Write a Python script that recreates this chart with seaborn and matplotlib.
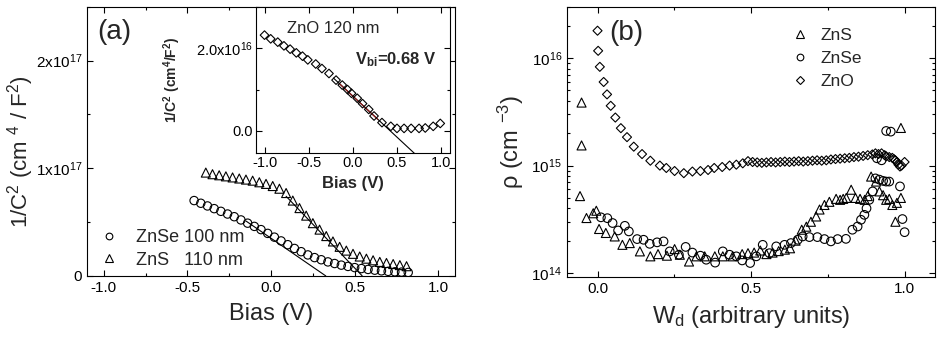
"""
Recreate the two-panel capacitance / doping profile figure with seaborn.
"""

import matplotlib

matplotlib.use("Agg")
import matplotlib.pyplot as plt
import matplotlib.ticker as mticker
import seaborn as sns

# ---------------- panel (a): 1/C^2 vs bias ----------------
ZNSE_BIAS = [-0.46, -0.42, -0.38, -0.34, -0.30, -0.26, -0.22, -0.18, -0.14, -0.10,
             -0.06, -0.02, 0.02, 0.06, 0.10, 0.14, 0.18, 0.22, 0.26, 0.30, 0.34,
             0.38, 0.42, 0.46, 0.50, 0.54, 0.58, 0.62, 0.66, 0.70, 0.74, 0.78, 0.82]
ZNSE_INV_C2 = [0.70e17, 0.675e17, 0.65e17, 0.625e17, 0.60e17, 0.575e17, 0.55e17,
               0.52e17, 0.49e17, 0.46e17, 0.43e17, 0.395e17, 0.36e17, 0.325e17,
               0.29e17, 0.255e17, 0.225e17, 0.195e17, 0.17e17, 0.15e17, 0.13e17,
               0.115e17, 0.10e17, 0.088e17, 0.077e17, 0.068e17, 0.06e17, 0.053e17,
               0.047e17, 0.042e17, 0.038e17, 0.035e17, 0.032e17]

ZNS_BIAS = [-0.39, -0.35, -0.31, -0.27, -0.23, -0.19, -0.15, -0.11, -0.07, -0.03,
            0.01, 0.05, 0.09, 0.13, 0.17, 0.21, 0.25, 0.29, 0.33, 0.37, 0.41, 0.45,
            0.49, 0.53, 0.57, 0.61, 0.65, 0.69, 0.73, 0.77, 0.81]
ZNS_INV_C2 = [0.96e17, 0.945e17, 0.935e17, 0.925e17, 0.915e17, 0.905e17, 0.895e17,
              0.885e17, 0.87e17, 0.855e17, 0.835e17, 0.81e17, 0.77e17, 0.70e17,
              0.63e17, 0.56e17, 0.49e17, 0.43e17, 0.37e17, 0.32e17, 0.27e17,
              0.235e17, 0.205e17, 0.18e17, 0.16e17, 0.145e17, 0.13e17, 0.12e17,
              0.11e17, 0.10e17, 0.09e17]

ZNSE_FIT_X = [-0.15, 0.327]
ZNSE_FIT_Y = [0.51e17, 0.0]
ZNS_FIT_X = [0.09, 0.545]
ZNS_FIT_Y = [0.74e17, 0.0]

# inset: ZnO
ZNO_BIAS = [-1.0, -0.93, -0.85, -0.78, -0.71, -0.64, -0.57, -0.51, -0.42, -0.35,
            -0.27, -0.19, -0.12, -0.06, -0.015, 0.05, 0.11, 0.18, 0.24, 0.33,
            0.43, 0.50, 0.58, 0.66, 0.75, 0.82, 0.91, 0.99]
ZNO_INV_C2 = [2.32e16, 2.23e16, 2.15e16, 2.06e16, 1.98e16, 1.89e16, 1.81e16,
              1.72e16, 1.62e16, 1.51e16, 1.39e16, 1.23e16, 1.11e16, 1.0e16,
              0.91e16, 0.79e16, 0.66e16, 0.52e16, 0.36e16, 0.20e16, 0.11e16,
              0.06e16, 0.06e16, 0.06e16, 0.06e16, 0.07e16, 0.11e16, 0.18e16]
ZNO_FIT_X = [-0.22, 0.70]
ZNO_FIT_Y = [1.28e16, -0.55e16]
ZNO_FIT_RANGE_X = [-0.15, 0.28]
ZNO_FIT_RANGE_Y = [1.14e16, 0.285e16]

# ---------------- panel (b): doping vs depletion width ----------------
ZNS_WD = [-0.052, -0.052, -0.057, -0.036, -0.014, -0.004, 0.005, 0.027, 0.056,
          0.081, 0.105, 0.138, 0.172, 0.197, 0.226, 0.251, 0.268, 0.298, 0.322,
          0.349, 0.382, 0.408, 0.44, 0.471, 0.49, 0.51, 0.53, 0.55, 0.57, 0.59,
          0.61, 0.627, 0.645, 0.665, 0.68, 0.695, 0.712, 0.723, 0.739, 0.755,
          0.777, 0.79, 0.80, 0.81, 0.826, 0.84, 0.855, 0.87, 0.88, 0.891, 0.907,
          0.918, 0.93, 0.94, 0.95, 0.96, 0.97, 0.975, 0.988, 0.988]
ZNS_RHO = [3.86e15, 1.54e15, 5.2e14, 3.25e14, 3.6e14, 3.8e14, 2.57e14, 2.36e14,
           2.19e14, 1.83e14, 1.9e14, 1.59e14, 1.43e14, 1.5e14, 1.45e14, 1.67e14,
           1.48e14, 1.28e14, 1.43e14, 1.43e14, 1.43e14, 1.43e14, 1.43e14, 1.5e14,
           1.53e14, 1.55e14, 1.62e14, 1.5e14, 1.55e14, 1.6e14, 1.65e14, 1.7e14,
           2.0e14, 2.53e14, 2.7e14, 3.0e14, 3.36e14, 3.9e14, 4.3e14, 4.6e14,
           4.9e14, 4.8e14, 4.9e14, 5.0e14, 5.96e14, 5.0e14, 4.9e14, 4.8e14,
           5.2e14, 7.9e14, 7.1e14, 5.75e14, 5.3e14, 4.8e14, 4.9e14, 4.3e14,
           3.0e14, 4.5e14, 5.0e14, 2.24e15]

ZNSE_WD = [0.011, 0.032, 0.049, 0.067, 0.089, 0.102, 0.129, 0.15, 0.17, 0.194,
           0.215, 0.235, 0.265, 0.287, 0.309, 0.335, 0.354, 0.383, 0.408, 0.43,
           0.452, 0.471, 0.497, 0.517, 0.538, 0.56, 0.582, 0.609, 0.63, 0.652,
           0.668, 0.69, 0.716, 0.739, 0.76, 0.782, 0.809, 0.83, 0.847, 0.858,
           0.869, 0.876, 0.885, 0.896, 0.905, 0.918, 0.93, 0.94, 0.95, 0.91,
           0.925, 0.94, 0.955, 0.985, 0.993, 1.0]
ZNSE_RHO = [3.3e14, 3.24e14, 2.92e14, 2.49e14, 2.75e14, 2.44e14, 2.07e14, 2.04e14,
            1.87e14, 1.93e14, 1.97e14, 1.59e14, 1.48e14, 1.75e14, 1.55e14, 1.45e14,
            1.33e14, 1.25e14, 1.59e14, 1.48e14, 1.43e14, 1.31e14, 1.24e14, 1.43e14,
            1.83e14, 1.53e14, 1.77e14, 1.83e14, 1.9e14, 2.04e14, 2.19e14, 2.16e14,
            2.16e14, 2.07e14, 1.97e14, 2.07e14, 2.08e14, 2.53e14, 2.71e14, 3.13e14,
            3.48e14, 4.0e14, 4.8e14, 5.75e14, 7.6e14, 7.4e14, 7.2e14, 7.1e14,
            7.1e14, 1.17e15, 1.12e15, 2.1e15, 2.07e15, 6.4e14, 3.18e14, 2.4e14]

ZNO_WD = [0.0, 0.002, 0.0075, 0.02, 0.031, 0.043, 0.058, 0.076, 0.096, 0.118,
          0.145, 0.172, 0.203, 0.224, 0.251, 0.281, 0.309, 0.335, 0.36, 0.38,
          0.406, 0.43, 0.452, 0.473, 0.49, 0.505, 0.52, 0.535, 0.55, 0.565, 0.58,
          0.595, 0.61, 0.625, 0.64, 0.655, 0.67, 0.685, 0.70, 0.715, 0.73, 0.745,
          0.76, 0.775, 0.79, 0.805, 0.82, 0.835, 0.85, 0.865, 0.88, 0.895, 0.905,
          0.915, 0.925, 0.935, 0.94, 0.95, 0.96, 0.965, 0.97, 0.975, 0.98, 0.985,
          0.99, 1.0]
ZNO_RHO = [1.8e16, 1.17e16, 8.3e15, 6.0e15, 4.6e15, 3.6e15, 2.8e15, 2.23e15,
           1.84e15, 1.5e15, 1.28e15, 1.11e15, 1.0e15, 0.95e15, 0.89e15, 0.85e15,
           0.88e15, 0.89e15, 0.91e15, 0.95e15, 0.97e15, 1.0e15, 1.02e15, 1.05e15,
           1.1e15, 1.08e15, 1.07e15, 1.06e15, 1.07e15, 1.08e15, 1.07e15, 1.08e15,
           1.09e15, 1.08e15, 1.09e15, 1.10e15, 1.09e15, 1.10e15, 1.11e15, 1.12e15,
           1.11e15, 1.12e15, 1.14e15, 1.15e15, 1.16e15, 1.17e15, 1.18e15, 1.20e15,
           1.21e15, 1.23e15, 1.25e15, 1.27e15, 1.3e15, 1.28e15, 1.3e15, 1.25e15,
           1.22e15, 1.2e15, 1.18e15, 1.15e15, 1.12e15, 1.08e15, 1.02e15, 0.98e15,
           1.0e15, 1.08e15]

TICK_SIZE = 11
LABEL_SIZE = 17


def open_scatter(ax, x, y, marker, size, label=None):
    sns.scatterplot(x=x, y=y, ax=ax, marker=marker, s=size ** 2,
                    facecolor="none", edgecolor="black", linewidth=0.8,
                    label=label, legend=False, zorder=3)


def style_axes(ax):
    ax.tick_params(which="both", direction="in", top=True, right=True,
                   labelsize=TICK_SIZE, width=0.8, colors="black")
    ax.tick_params(which="major", length=4)
    ax.tick_params(which="minor", length=2.5)
    for spine in ax.spines.values():
        spine.set_visible(True)
        spine.set_linewidth(0.8)
        spine.set_color("black")


def sci_label(mantissa_fmt, exponent):
    def fmt(value, _pos):
        if value == 0:
            return mantissa_fmt.format(0.0) if "." in mantissa_fmt else "0"
        return mantissa_fmt.format(value / 10 ** exponent) + "x10$^{%d}$" % exponent
    return mticker.FuncFormatter(fmt)


def legend_handle(marker, size, label):
    return plt.Line2D([], [], ls="", marker=marker, ms=size, mfc="none",
                      mec="black", mew=0.8, label=label)


def create_figure() -> None:
    sns.set_style("ticks")
    plt.rcParams["font.family"] = ["Liberation Sans", "DejaVu Sans"]
    plt.rcParams["mathtext.fontset"] = "custom"
    plt.rcParams["mathtext.rm"] = "Liberation Sans"
    plt.rcParams["mathtext.it"] = "Liberation Sans:italic"
    plt.rcParams["mathtext.bf"] = "Liberation Sans:bold"

    fig = plt.figure(figsize=(9.4, 3.44), dpi=100)

    # ---- panel (a)
    ax_a = fig.add_axes([0.0926, 0.198, 0.3915, 0.782])
    open_scatter(ax_a, ZNSE_BIAS, ZNSE_INV_C2, "o", 6.0)
    open_scatter(ax_a, ZNS_BIAS, ZNS_INV_C2, "^", 6.5)
    sns.lineplot(x=ZNSE_FIT_X, y=ZNSE_FIT_Y, ax=ax_a, color="black", lw=0.8)
    sns.lineplot(x=ZNS_FIT_X, y=ZNS_FIT_Y, ax=ax_a, color="black", lw=0.8)
    ax_a.set_xlim(-1.1, 1.1)
    ax_a.set_ylim(0, 2.5e17)
    ax_a.xaxis.set_major_locator(mticker.MultipleLocator(0.5))
    ax_a.xaxis.set_minor_locator(mticker.MultipleLocator(0.25))
    ax_a.xaxis.set_major_formatter(mticker.FormatStrFormatter("%.1f"))
    ax_a.yaxis.set_major_locator(mticker.MultipleLocator(1e17))
    ax_a.yaxis.set_minor_locator(mticker.MultipleLocator(0.5e17))
    ax_a.yaxis.set_major_formatter(sci_label("{:.0f}", 17))
    ax_a.yaxis.get_offset_text().set_visible(False)
    style_axes(ax_a)
    ax_a.set_xlabel("Bias (V)", fontsize=LABEL_SIZE, labelpad=6)
    ax_a.set_ylabel("1/C$^2$ (cm $^4$ / F$^2$)", fontsize=16)
    ax_a.yaxis.set_label_coords(-0.14, 0.46)
    ax_a.text(0.027, 0.905, "(a)", transform=ax_a.transAxes, fontsize=20,
              va="center", ha="left")
    ax_a.legend(handles=[legend_handle("o", 4.8, "ZnSe 100 nm"),
                         legend_handle("^", 5.2, "ZnS   110 nm")],
                loc="lower left", bbox_to_anchor=(0.0, 0.0), frameon=False,
                fontsize=13, handletextpad=0.7, borderaxespad=0.0,
                labelspacing=0.3, handlelength=1.6)

    # ---- inset
    ax_in = fig.add_axes([0.272, 0.556, 0.2067, 0.4235])
    ax_in.set_facecolor("white")
    open_scatter(ax_in, ZNO_BIAS, ZNO_INV_C2, "D", 4.4)
    sns.lineplot(x=ZNO_FIT_X, y=ZNO_FIT_Y, ax=ax_in, color="black", lw=0.8)
    sns.lineplot(x=ZNO_FIT_RANGE_X, y=ZNO_FIT_RANGE_Y, ax=ax_in,
                 color="#8b1a1a", lw=0.9)
    ax_in.set_xlim(-1.1, 1.1)
    ax_in.set_ylim(-0.53e16, 3.0e16)
    ax_in.xaxis.set_major_locator(mticker.MultipleLocator(0.5))
    ax_in.xaxis.set_major_formatter(mticker.FormatStrFormatter("%.1f"))
    ax_in.yaxis.set_major_locator(mticker.MultipleLocator(2e16))
    ax_in.yaxis.set_minor_locator(mticker.MultipleLocator(1e16))
    ax_in.yaxis.set_major_formatter(sci_label("{:.1f}", 16))
    ax_in.yaxis.get_offset_text().set_visible(False)
    style_axes(ax_in)
    ax_in.tick_params(labelsize=10.5, pad=2)
    ax_in.set_xlabel("Bias (V)", fontsize=12, fontweight="bold", labelpad=5)
    ax_in.set_ylabel("1/C$^\\mathbf{2}$ (cm$^\\mathbf{4}$/F$^\\mathbf{2}$)",
                     fontsize=10, fontweight="bold", labelpad=9)
    ax_in.text(0.16, 0.856, "ZnO 120 nm", transform=ax_in.transAxes,
               fontsize=12, va="center", ha="left")
    ax_in.text(0.51, 0.636, "V$_\\mathbf{bi}$=0.68 V", transform=ax_in.transAxes,
               fontsize=12, fontweight="bold", va="center", ha="left")

    # ---- panel (b)
    ax_b = fig.add_axes([0.603, 0.195, 0.392, 0.785])
    open_scatter(ax_b, ZNO_WD, ZNO_RHO, "D", 4.6)
    open_scatter(ax_b, ZNSE_WD, ZNSE_RHO, "o", 6.2)
    open_scatter(ax_b, ZNS_WD, ZNS_RHO, "^", 6.5)
    ax_b.set_yscale("log")
    ax_b.set_xlim(-0.1, 1.1)
    ax_b.set_ylim(9.2e13, 3.0e16)
    ax_b.xaxis.set_major_locator(mticker.MultipleLocator(0.5))
    ax_b.xaxis.set_minor_locator(mticker.MultipleLocator(0.25))
    ax_b.xaxis.set_major_formatter(mticker.FormatStrFormatter("%.1f"))
    ax_b.yaxis.set_major_locator(mticker.LogLocator(base=10, numticks=10))
    ax_b.yaxis.set_minor_locator(
        mticker.LogLocator(base=10, subs=range(2, 10), numticks=10))
    ax_b.yaxis.set_minor_formatter(mticker.NullFormatter())
    style_axes(ax_b)
    ax_b.set_xlabel("W$_\\mathrm{d}$ (arbitrary units)", fontsize=LABEL_SIZE,
                    labelpad=6)
    ax_b.set_ylabel("\u03c1 (cm $^{-3}$)", fontsize=LABEL_SIZE, labelpad=4)
    ax_b.text(0.115, 0.905, "(b)", transform=ax_b.transAxes, fontsize=20,
              va="center", ha="left")

    handles = [
        legend_handle("^", 5.2, "ZnS"),
        legend_handle("o", 4.8, "ZnSe"),
        legend_handle("D", 3.8, "ZnO"),
    ]
    ax_b.legend(handles=handles, loc="upper left", bbox_to_anchor=(0.575, 0.96),
                frameon=False, fontsize=12.5, handletextpad=0.6,
                labelspacing=0.45, borderaxespad=0.2, handlelength=1.2)

    fig.savefig("out.png", dpi=100)


if __name__ == "__main__":
    create_figure()
